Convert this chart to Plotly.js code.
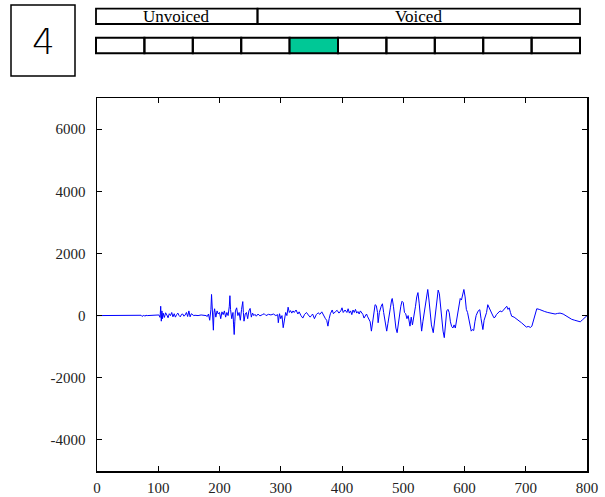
<!DOCTYPE html>
<html>
<head>
<meta charset="utf-8">
<script src="https://cdn.plot.ly/plotly-3.0.1.min.js"></script>
<style>
  html, body { margin: 0; padding: 0; background: #ffffff; }
  #chart { width: 605px; height: 497px; }
</style>
</head>
<body>
<div id="chart"></div>
<script>
// ---- data ----
const panelNumber = "4";
const phaseLabels = ["Unvoiced", "Voiced"];
const frameCount = 10;
const activeFrame = 4;
const xTickVals = [0, 100, 200, 300, 400, 500, 600, 700, 800];
const yTickVals = [-4000, -2000, 0, 2000, 4000, 6000];

const sampleIdx = [0,70,72,74,76,78,80,82,100,101,103,104,105,106,107,108,110,112,114,116,118,120,122,124,126,128,130,132,134,136,138,140,142,144,146,148,150,152,154,156,158,160,165,170,175,178,180,182,184,186,187,188,189,190,191,192,194,196,198,200,202,204,206,208,210,212,214,216,217,218,220,222,223,224,225,226,228,230,232,234,236,238,239,240,242,244,246,248,250,252,254,256,258,260,263,266,270,273,276,280,284,288,292,295,296,298,300,302,304,306,308,310,312,314,316,318,320,322,325,328,330,333,336,339,342,345,348,350,352,355,358,361,364,367,370,373,375,377,379,381,384,386,389,392,395,398,400,402,405,408,410,412,414,416,418,420,422,424,426,428,430,432,434,436,438,440,442,444,446,448,450,452,454,456,458,459,461,464,466,468,470,473,475,477,479,481,482,484,486,488,490,492,494,496,498,500,502,504,506,508,511,513,515,518,520,522,524,526,528,530,532,534,536,538,540,542,544,546,549,551,553,555,557,559,561,563,565,567,569,571,573,575,577,579,581,583,585,587,589,591,593,595,597,599,601,603,605,607,609,611,613,615,617,619,622,625,627,630,632,634,636,638,640,642,645,648,650,652,655,658,661,664,667,669,671,673,675,677,681,685,689,693,697,701,704,708,710,712,714,716,718,722,726,731,736,742,748,752,756,761,765,769,775,780,785,789,793,797,800];
const amplitude = [0,0,10,-30,20,-20,10,0,0,20,-60,300,-180,150,-100,80,-60,90,20,-70,60,0,100,-40,60,-50,30,80,0,-40,40,50,-20,20,100,-30,150,-40,60,20,0,10,0,20,10,0,-30,50,-150,200,680,100,-300,-470,100,220,-50,150,50,100,-100,120,30,150,-50,100,0,300,640,200,-100,100,-300,-610,-200,150,250,0,100,-150,200,450,100,-180,50,100,-100,150,230,-50,80,0,40,-20,50,-10,30,60,0,40,20,50,0,30,-230,60,-100,0,-390,-50,100,0,270,100,160,80,150,100,180,50,120,0,-80,40,100,20,-50,0,50,-100,30,90,40,120,-20,-100,-150,-340,-100,60,180,60,120,170,80,150,250,100,180,100,220,80,150,30,180,100,200,80,130,50,150,100,40,-80,-30,50,-40,-100,-200,-500,-200,100,350,320,100,-230,100,300,380,100,-200,-500,-250,100,250,500,550,300,-100,-400,-550,-200,100,300,460,420,100,60,-100,0,-340,-50,-300,0,300,600,740,400,-100,-500,-200,100,400,700,840,500,0,-300,-550,-200,100,500,820,700,200,-200,-500,-710,-300,150,200,100,-200,-350,-400,-300,-400,-150,100,300,550,500,700,840,600,200,100,-100,-300,-500,-450,-480,-200,0,140,190,-100,-450,-150,0,100,350,250,200,50,-70,-50,30,100,150,120,200,250,300,200,250,100,-20,-50,-100,-170,-230,-300,-370,-350,-380,-340,-200,0,150,220,200,160,130,100,80,50,70,80,50,0,-70,-120,-150,-190,-200,-130,-70,0];

// ---- layout helpers (pixel -> paper) ----
const W = 605, H = 497;
const M = {l: 97, r: 18, t: 98, b: 26};
const PW = W - M.l - M.r, PH = H - M.t - M.b;
const px = x => (x - M.l) / PW;
const py = y => (H - M.b - y) / PH;

const shapes = [];
const annotations = [];

// panel number box
shapes.push({type: 'rect', xref: 'paper', yref: 'paper', x0: px(11), x1: px(75), y0: py(76), y1: py(5),
  line: {color: '#000', width: 1.5}, fillcolor: 'rgba(0,0,0,0)'});
annotations.push({xref: 'paper', yref: 'paper', x: px(43), y: py(42), text: panelNumber, showarrow: false,
  xanchor: 'center', yanchor: 'middle', font: {family: 'DejaVu Sans Light, Liberation Sans, Arial, sans-serif', size: 36, color: '#000', weight: 300}});

// phase bar
const barL = 96, barR = 580, divX = 257.5;
const phaseEdges = [[barL, divX], [divX, barR]];
phaseLabels.forEach((lab, i) => {
  const [a, b] = phaseEdges[i];
  shapes.push({type: 'rect', xref: 'paper', yref: 'paper', x0: px(a), x1: px(b), y0: py(24), y1: py(8.7),
    line: {color: '#000', width: 1.8}, fillcolor: 'rgba(0,0,0,0)'});
  annotations.push({xref: 'paper', yref: 'paper', x: px((a + b) / 2), y: py(16.5), text: lab, showarrow: false,
    xanchor: 'center', yanchor: 'middle', font: {family: 'Liberation Serif, Times New Roman, serif', size: 17, color: '#000'}});
});

// frame cells
const cw = (barR - barL) / frameCount;
for (let i = 0; i < frameCount; i++) {
  shapes.push({type: 'rect', xref: 'paper', yref: 'paper', x0: px(barL + i * cw), x1: px(barL + (i + 1) * cw),
    y0: py(53.3), y1: py(37.7), line: {color: '#000', width: 2},
    fillcolor: i === activeFrame ? '#00c896' : 'rgba(0,0,0,0)'});
}

const tickFont = {family: 'Liberation Serif, Times New Roman, serif', size: 15, color: '#222'};

const trace = {
  x: sampleIdx, y: amplitude, type: 'scatter', mode: 'lines',
  line: {color: '#0000ff', width: 1}, hoverinfo: 'skip'
};

const layout = {
  width: W, height: H,
  margin: M,
  paper_bgcolor: '#fff', plot_bgcolor: '#fff',
  showlegend: false,
  xaxis: {range: [0, 800], tickvals: xTickVals, ticktext: xTickVals.map(String), ticks: 'inside', ticklen: 5,
    tickcolor: '#000', showline: true, linecolor: '#000', linewidth: 1.5, mirror: 'ticks',
    showgrid: false, zeroline: false, tickfont: tickFont, ticklabelstandoff: 2},
  yaxis: {range: [-5000, 7000], tickvals: yTickVals, ticktext: yTickVals.map(String), ticks: 'inside', ticklen: 5,
    tickcolor: '#000', showline: true, linecolor: '#000', linewidth: 1.5, mirror: 'ticks',
    showgrid: false, zeroline: false, tickfont: tickFont, ticklabelstandoff: 7},
  shapes: shapes,
  annotations: annotations
};

Plotly.newPlot('chart', [trace], layout, {displayModeBar: false, staticPlot: true});
</script>
</body>
</html>
